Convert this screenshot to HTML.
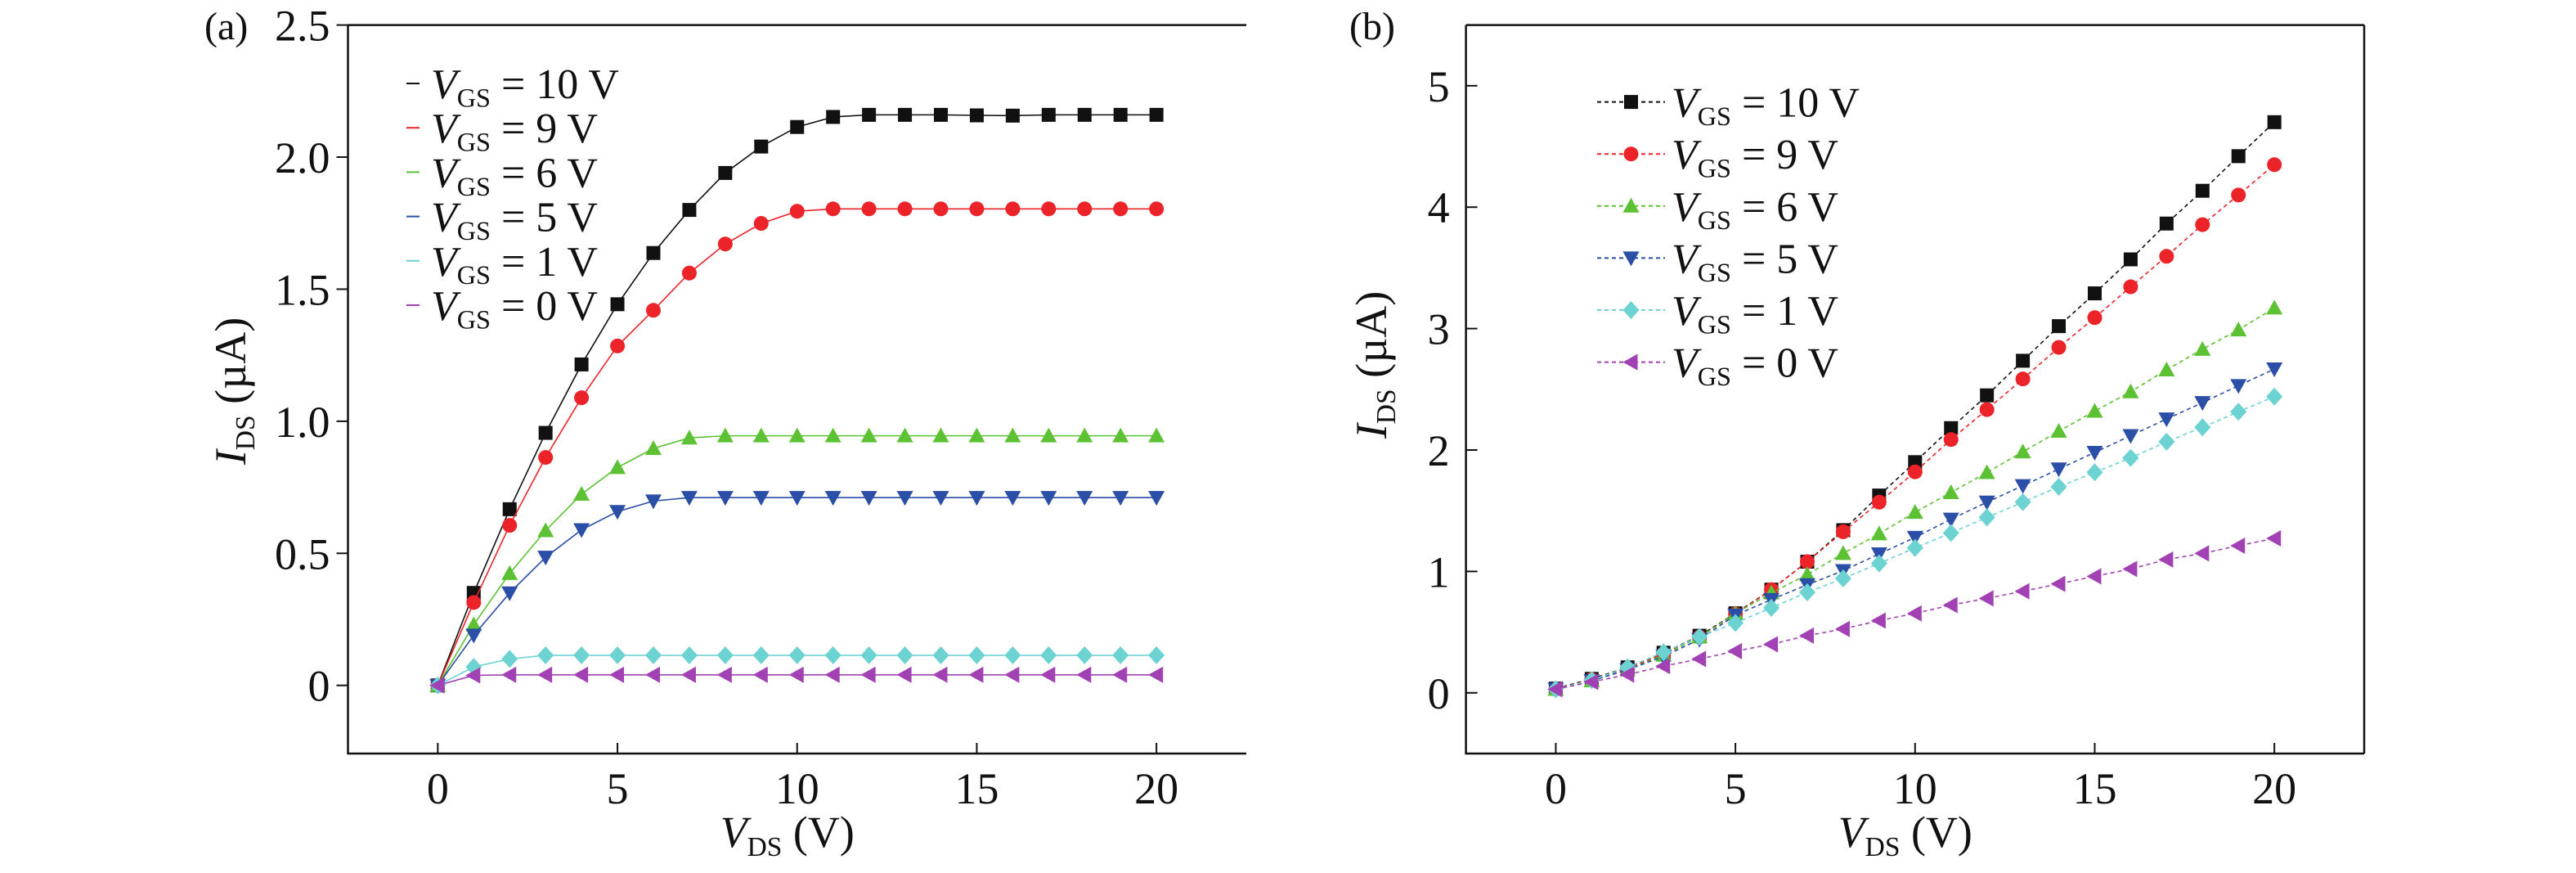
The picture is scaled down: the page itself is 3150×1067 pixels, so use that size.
<!DOCTYPE html>
<html><head><meta charset="utf-8"><style>
html,body{margin:0;padding:0;background:#fff;}
svg{display:block;font-family:"Liberation Serif","Times New Roman",serif;}
svg text{font-family:"Liberation Serif","Times New Roman",serif;}
</style></head><body>
<svg id="fig" width="3150" height="1067" viewBox="0 0 3150 1067" xmlns="http://www.w3.org/2000/svg">
<rect width="3150" height="1067" fill="#fff"/>
<g id="pa"></g>
<g id="pb"></g>
</svg>
<script>
const xVals=[0,1,2,3,4,5,6,7,8,9,10,11,12,13,14,15,16,17,18,19,20];
const legendLabels=['10','9','6','5','1','0'];
const xTickVals=[0,5,10,15,20];
const aTickVals=[0,0.5,1.0,1.5,2.0,2.5];
const aTickLabels=['0','0.5','1.0','1.5','2.0','2.5'];
const bTickVals=[0,1,2,3,4,5];
const bTickLabels=['0','1','2','3','4','5'];
const a10=[0,0.35,0.667,0.956,1.215,1.443,1.637,1.80,1.94,2.04,2.114,2.152,2.16,2.16,2.16,2.158,2.157,2.16,2.16,2.16,2.16];
const a9=[0,0.314,0.606,0.863,1.089,1.285,1.42,1.561,1.671,1.749,1.795,1.804,1.804,1.804,1.804,1.804,1.804,1.804,1.804,1.804,1.804];
const a6=[0,0.23,0.424,0.586,0.724,0.825,0.897,0.937,0.945,0.945,0.945,0.945,0.945,0.945,0.945,0.945,0.945,0.945,0.945,0.945,0.945];
const a5=[0,0.19,0.35,0.485,0.589,0.658,0.698,0.711,0.711,0.711,0.711,0.711,0.711,0.711,0.711,0.711,0.711,0.711,0.711,0.711,0.711];
const a1=[0,0.07,0.1,0.114,0.114,0.114,0.114,0.114,0.114,0.114,0.114,0.114,0.114,0.114,0.114,0.114,0.114,0.114,0.114,0.114,0.114];
const a0=[0,0.038,0.04,0.04,0.04,0.04,0.04,0.04,0.04,0.04,0.04,0.04,0.04,0.04,0.04,0.04,0.04,0.04,0.04,0.04,0.04];
const b10=[0.035,0.115,0.21,0.33,0.47,0.655,0.85,1.08,1.34,1.625,1.9,2.18,2.45,2.735,3.02,3.29,3.57,3.865,4.135,4.42,4.70];
const b9=[0.03,0.11,0.2,0.32,0.46,0.65,0.85,1.08,1.327,1.57,1.82,2.086,2.333,2.585,2.845,3.09,3.344,3.595,3.856,4.10,4.35];
const b6=[0.03,0.1,0.19,0.31,0.46,0.654,0.823,0.974,1.148,1.31,1.487,1.65,1.815,1.985,2.155,2.32,2.48,2.66,2.83,2.99,3.17];
const b5=[0.03,0.1,0.19,0.3,0.44,0.64,0.768,0.89,1.006,1.144,1.28,1.43,1.57,1.706,1.843,1.98,2.118,2.255,2.39,2.53,2.667];
const b1=[0.03,0.105,0.21,0.334,0.462,0.576,0.70,0.828,0.942,1.066,1.194,1.317,1.445,1.57,1.697,1.816,1.935,2.068,2.187,2.315,2.44];
const b0=[0.03,0.09,0.15,0.22,0.279,0.343,0.40,0.471,0.526,0.595,0.654,0.723,0.778,0.837,0.897,0.96,1.02,1.098,1.148,1.212,1.272];
const colors=['#111111','#ec2328','#5cc234','#2b4ea6','#6cd3d2','#a241b3'];
const markers=['square','circle','up','down','diamond','left'];
const NS='http://www.w3.org/2000/svg';
const FF='"Liberation Serif","Times New Roman",serif';
function mk(tag,attrs,parent){const e=document.createElementNS(NS,tag);for(const k in attrs)e.setAttribute(k,attrs[k]);parent.appendChild(e);return e;}
function marker(g,type,cx,cy,c){
  let e;const r=9;
  if(type==='square')e=mk('rect',{x:cx-8.5,y:cy-8.5,width:17,height:17,fill:c},g);
  else if(type==='circle')e=mk('circle',{cx:cx,cy:cy,r:r,fill:c},g);
  else{let p;
    if(type==='up')p=[[cx,cy-10],[cx+10,cy+8],[cx-10,cy+8]];
    else if(type==='down')p=[[cx,cy+10],[cx+10,cy-8],[cx-10,cy-8]];
    else if(type==='diamond')p=[[cx,cy-11],[cx+10,cy],[cx,cy+11],[cx-10,cy]];
    else p=[[cx-10,cy],[cx+8,cy-10],[cx+8,cy+10]];
    e=mk('polygon',{points:p.map(q=>q.join(',')).join(' '),fill:c},g);}
  
  
}
function label(g,x,y,size,anchor,main,sub,rest,name){
  const t=mk('text',{x:x,y:y,'font-size':size,'text-anchor':anchor,fill:'#111','font-family':FF},g);
  
  
  const a=mk('tspan',{'font-style':'italic'},t);a.textContent=main;
  const b=mk('tspan',{'font-size':size*0.62,dy:size*0.2},t);b.textContent=sub;
  const c=mk('tspan',{dy:-size*0.2},t);c.textContent=rest;
  return t;
}
function panel(g,cfg){
  const L=cfg.L,R=cfg.R,T=30.6,B=921;
  const sx=v=>L+(v-cfg.x0)/(cfg.x1-cfg.x0)*(R-L);
  const sy=v=>B-(v-cfg.y0)/(cfg.y1-cfg.y0)*(B-T);
  const ax=mk('path',{d:`M${L},${T} H${R} M${L},${T} V${B} H${R}`,stroke:'#111','stroke-width':2.5,fill:'none'},g);
  
  if(cfg.rightAxis){const r=mk('line',{x1:R,y1:T,x2:R,y2:B,stroke:'#111','stroke-width':2.5},g);}
  xTickVals.forEach(v=>{
    const l=mk('line',{x1:sx(v),x2:sx(v),y1:B,y2:B-13,stroke:'#111','stroke-width':2},g);
    
    const t=mk('text',{x:sx(v),y:982,'font-size':54,'text-anchor':'middle',fill:'#111','font-family':FF},g);
    t.textContent=v;
  });
  cfg.yt.forEach((v,i)=>{
    const l=mk('line',{x1:cfg.tickOut?L-14:L,x2:cfg.tickOut?L:L+14,y1:sy(v),y2:sy(v),stroke:'#111','stroke-width':2},g);
    
    const t=mk('text',{x:L-cfg.labGap,y:sy(v)+19,'font-size':54,'text-anchor':'end',fill:'#111','font-family':FF},g);
    t.textContent=cfg.ytl[i];
  });
  cfg.series.forEach((s,i)=>{
    const sg=mk('g',{},g);
    
    
    const pts=xVals.map((x,j)=>[sx(x),sy(s[j])]);
    const ln=mk('polyline',{points:pts.map(p=>p.join(',')).join(' '),fill:'none',stroke:colors[i],'stroke-width':1.6,'stroke-dasharray':cfg.dash||'none'},sg);
    
    pts.forEach(p=>marker(sg,markers[i],p[0],p[1],colors[i]));
  });
  const lg=mk('g',{},g);
  
  
  legendLabels.forEach((lab,i)=>{
    const y=cfg.legY0+i*cfg.legDy;
    const eg=mk('g',{},lg);
    
    
    mk('line',{x1:cfg.legL1,x2:cfg.legL2,y1:y,y2:y,stroke:colors[i],'stroke-width':2,'stroke-dasharray':cfg.dash||'none'},eg);
    if(cfg.legMarker)marker(eg,markers[i],(cfg.legL1+cfg.legL2)/2,y,colors[i]);
    label(eg,cfg.legT,y+18,52,'start','V','GS',' = '+lab+' V','legend-label');
  });
  label(g,(L+R)/2-12,1035,54,'middle','V','DS',' (V)','x-axis-title');
  const yt=label(g,0,0,54,'middle','I','DS',' (µA)','y-axis-title');
  yt.setAttribute('transform',`translate(${cfg.ytX},${cfg.ytY}) rotate(-90)`);
  const pl=mk('text',{x:cfg.plX,y:48,'font-size':48,fill:'#111','font-family':FF},g);
  pl.textContent=cfg.pl;
}
panel(document.getElementById('pa'),{L:425.5,R:1524,x0:-2.5,x1:22.5,y0:-0.258,y1:2.5,yt:aTickVals,ytl:aTickLabels,tickOut:true,labGap:22,
 series:[a10,a9,a6,a5,a1,a0],legY0:102,legDy:54.2,legL1:497,legL2:513,legT:527,legMarker:false,ytX:300,ytY:478,plX:250,pl:'(a)',rightAxis:false});
panel(document.getElementById('pb'),{L:1792.6,R:2891,x0:-2.5,x1:22.5,y0:-0.5,y1:5.5,yt:bTickVals,ytl:bTickLabels,tickOut:false,labGap:20,dash:'5,4',
 series:[b10,b9,b6,b5,b1,b0],legY0:124.6,legDy:63.6,legL1:1953,legL2:2036,legT:2044,legMarker:true,ytX:1695,ytY:446,plX:1650,pl:'(b)',rightAxis:true});
</script>
</body></html>
